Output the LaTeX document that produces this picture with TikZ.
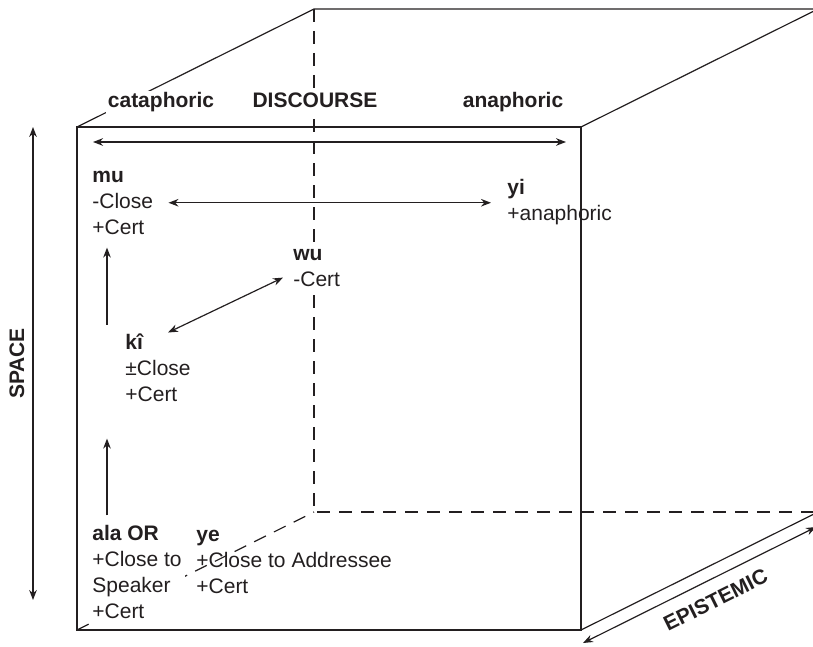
\documentclass[tikz,border=0pt]{standalone}
\usepackage{fontspec}
\setmainfont{Liberation Sans}
\usetikzlibrary{arrows.meta,positioning,calc}
\definecolor{inkC}{HTML}{231F20}
\tikzset{
  >={Stealth[length=5pt,width=3.8pt]},
  cubeEdge/.style={draw=inkC,line width=0.6pt},
  cubeHidden/.style={cubeEdge,dash pattern=on 6.5pt off 4.5pt},
  axisFlow/.style={<->,line width=0.6pt,inkC},
  termFlow/.style={->,line width=0.6pt,inkC},
  termNode/.style={align=left,inner sep=0pt,text=inkC,
                   font=\fontsize{10.5}{12.85}\selectfont},
  axisLabel/.style={inner sep=1pt,text=inkC,
                    font=\fontsize{10.5}{12.85}\selectfont\bfseries},
}

\begin{document}
\begin{tikzpicture}[x=0.5pt,y=-0.5pt]
\useasboundingbox (0,0) rectangle (813,647);
\clip (0,0) rectangle (813,647);

% Cube corners: front face, then pushed back along the epistemic axis.
\coordinate (ftl) at (77,127);
\coordinate (ftr) at (581,127);
\coordinate (fbr) at (581,630);
\coordinate (fbl) at (77,630);
\coordinate (btl) at ($(ftl)+(237,-118)$);
\coordinate (btr) at ($(ftr)+(237,-118)$);
\coordinate (bbl) at ($(fbl)+(237,-118)$);
\coordinate (bbr) at ($(fbr)+(237,-118)$);

\draw[cubeHidden] (btl) -- (bbl) -- (bbr);
\draw[cubeHidden] (fbl) -- (bbl);
\draw[cubeEdge] (ftl) rectangle (fbr);
\draw[cubeEdge] (ftl) -- (btl) -- (btr) -- (ftr);
\draw[cubeEdge] (fbr) -- (bbr) -- (btr);

% Discourse axis along the top edge.
\node[axisLabel,fill=white,anchor=base] (cataLabel) at (161,108) {cataphoric};
\node[axisLabel,fill=white,anchor=base] (discLabel) at (315,108) {DISCOURSE};
\node[axisLabel,anchor=base] (anaLabel) at (513,108) {anaphoric};
\draw[axisFlow] ([xshift=8pt,yshift=-7.5pt]ftl) -- ([xshift=-7.5pt,yshift=-7.5pt]ftr);

% Demonstratives and their features (placed by the baseline of the last line).
\node[termNode,anchor=base west] (mu) at (92,234) {\textbf{mu}\\-Close\\+Cert};
\node[termNode,anchor=base west] (yi) at (507,220) {\textbf{yi}\\+anaphoric};
\node[termNode,anchor=base west,fill=white] (wu) at (293,286) {\textbf{wu}\\-Cert};
\node[termNode,anchor=base west] (ki) at (125,401) {\textbf{kî}\\±Close\\+Cert};
\node[termNode,anchor=base west,fill=white,inner sep=1.5pt] (ala) at (89,618)
  {\textbf{ala OR}\\+Close to\\Speaker\\+Cert};
\node[termNode,anchor=base west] (ye) at (196,593)
  {\textbf{ye}\\+Close to Addressee\\+Cert};

\draw[axisFlow,shorten <=7.5pt,shorten >=8pt] (mu.east) -- (mu.east -| yi.west);
\draw[axisFlow] ([xshift=-5pt,yshift=4.5pt]wu.south west) -- ([xshift=5pt,yshift=0.5pt]ki.north);
\draw[termFlow] ([xshift=7.5pt,yshift=4.5pt]mu.south west |- ki.north)
  -- ([xshift=7.5pt,yshift=-6.5pt]mu.south west);
\draw[termFlow] ([xshift=9pt,yshift=3.5pt]ala.north west)
  -- ([xshift=9pt,yshift=-18.5pt]ala.north west |- ki.south);

% Space and epistemic axes.
\coordinate (spaceTop) at (33,127);
\coordinate (spaceBot) at (33,600);
\draw[axisFlow] (spaceTop) -- node[axisLabel,midway,rotate=90,anchor=south,inner sep=4pt]
  (spaceLabel) {SPACE} (spaceBot);

\coordinate (epiLow) at (583,643);
\coordinate (epiHigh) at (816,527);
\draw[axisFlow] (epiLow) -- node[axisLabel,pos=0.53,sloped,below,inner sep=6.25pt]
  (epiLabel) {EPISTEMIC} (epiHigh);

\end{tikzpicture}
\end{document}
